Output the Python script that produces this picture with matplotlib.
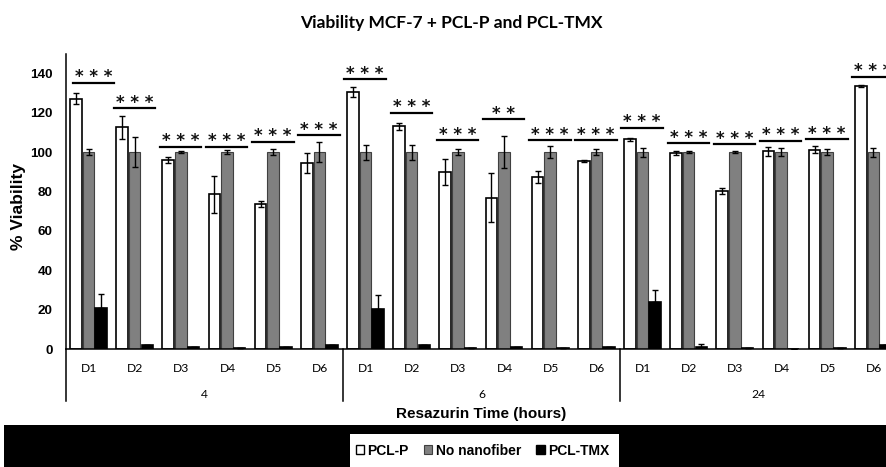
import matplotlib
matplotlib.use("Agg")
import matplotlib.pyplot as plt
from matplotlib.patches import Rectangle, Patch
import matplotlib.transforms as mtransforms
import numpy as np

# ---------------- data ----------------
groups = ["4", "6", "24"]
days = ["D1", "D2", "D3", "D4", "D5", "D6"]
series = ["PCL-P", "No nanofiber", "PCL-TMX"]

pclp = [127, 112.5, 96, 78.6, 73.7, 94.4,
        130.7, 113, 89.8, 76.9, 87.3, 95.7,
        106.5, 99.7, 80.3, 100.3, 101.3, 133.7]
pclp_err = [2.8, 6, 1.5, 9.5, 1.7, 5.2,
            2.5, 2, 6.6, 12.5, 3, 0.5,
            0.8, 1, 1.7, 2.3, 2, 0.5]
nonano = [100] * 18
nonano_err = [1.5, 7.5, 0.5, 0.8, 1.7, 5,
              3.8, 3.8, 1.5, 8.2, 3, 1.5,
              2.3, 0.5, 0.3, 2, 1.5, 2.3]
pcltmx = [20.8, 2, 1.2, 0.5, 0.8, 1.8,
          20.3, 2, 0.3, 0.8, 0.5, 1,
          23.7, 1, 0.3, 0, 0.3, 2]
pcltmx_err = [7, 0, 0, 0, 0, 0,
              7, 0, 0, 0, 0, 0,
              6.5, 1.3, 0, 0, 0, 0]

sig_height = [135.2, 122.2, 102.7, 102.7, 105.2, 108.6,
              137.1, 120, 106.1, 116.6, 106.1, 106.1,
              112.3, 104.4, 104, 105.7, 106.4, 138.2]
sig_label = ["***"] * 18
sig_label[9] = "**"

yticks = [0, 20, 40, 60, 80, 100, 120, 140]

# ---------------- figure ----------------
W, H = 887, 467
fig = plt.figure(figsize=(W / 100, H / 100), dpi=100)
fig.patch.set_facecolor("white")

ax_left, ax_right = 66, 897
ax_bot, ax_top = 349, 53.6
ax = fig.add_axes([ax_left / W, (H - ax_bot) / H,
                   (ax_right - ax_left) / W, (ax_bot - ax_top) / H])
ax_h_px = ax_bot - ax_top

n = len(pclp)
x = np.arange(n) + 0.5
bw = 0.25
err_kw = dict(ecolor="black", elinewidth=1.0, capsize=2.0, capthick=1.0)

ax.bar(x - 0.285, pclp, bw, yerr=pclp_err, color="white", edgecolor="black",
       linewidth=1.2, error_kw=err_kw, zorder=2)
ax.bar(x - 0.012, nonano, bw, yerr=nonano_err, color="#808080", edgecolor="#404040",
       linewidth=0.8, error_kw=err_kw, zorder=2)
ax.bar(x + 0.262, pcltmx, bw, yerr=[np.zeros(n), pcltmx_err], color="black",
       edgecolor="black", linewidth=1.2, error_kw=err_kw, zorder=2)

ax.set_xlim(0, n)
ax.set_ylim(0, 150)
ax.set_yticks(yticks)
ax.set_yticklabels([str(t) for t in yticks], fontfamily="Liberation Sans",
                   fontweight="bold", fontsize=9.7)
ax.tick_params(axis="y", length=0, pad=9.5)
ax.set_xticks([])
for s in ["top", "right"]:
    ax.spines[s].set_visible(False)
ax.spines["left"].set_linewidth(1.1)
ax.spines["bottom"].set_linewidth(1.1)

# significance bars
for i in range(n):
    x0 = i + 0.03
    x1 = i + 0.93
    if i == 0:
        x0 += 0.115
        x1 += 0.115
    y = sig_height[i]
    ax.plot([x0, x1], [y, y], color="black", lw=1.6, clip_on=False, zorder=3)
    lab = " ".join(sig_label[i])
    ax.annotate(lab, xy=((x0 + x1) / 2, y), xytext=(0, 0.3),
                textcoords="offset points", ha="center", va="baseline",
                fontsize=12, fontweight="bold", fontfamily="DejaVu Sans",
                color="#111111", annotation_clip=False)

# category axis
trans = mtransforms.blended_transform_factory(ax.transData, ax.transAxes)
for i in range(n):
    ax.text(x[i], -19 / ax_h_px, days[i % 6], transform=trans, ha="center",
            va="center", fontsize=8.7, fontfamily="Lato", color="black")
for g, name in enumerate(groups):
    ax.text(g * 6 + 3, -45 / ax_h_px, name, transform=trans, ha="center",
            va="center", fontsize=8.7, fontfamily="Lato", color="black")
for g in range(len(groups) + 1):
    ax.plot([g * 6, g * 6], [0, -52 / ax_h_px], transform=trans, color="black",
            lw=1.1, clip_on=False)

# axis titles and title
fig.text(481 / W, 1 - 414 / H, "Resazurin Time (hours)", ha="center", va="center",
         fontsize=11, fontweight="bold", fontfamily="Liberation Sans")
fig.text(19 / W, 1 - 206.5 / H, "% Viability", rotation=90, ha="center", va="center",
         fontsize=12.5, fontweight="bold", fontfamily="Liberation Sans")
fig.text(451 / W, 1 - 22.7 / H, "Viability MCF-7 + PCL-P and PCL-TMX", ha="center",
         va="center", fontsize=12.5, fontweight="bold", fontfamily="Lato")

# black band with legend box
fig.patches.append(Rectangle((4 / W, 0), (W - 4) / W, 42 / H, transform=fig.transFigure,
                             facecolor="black", edgecolor="none", zorder=0))
fig.patches.append(Rectangle((350 / W, 0), 269 / W, 33 / H, transform=fig.transFigure,
                             facecolor="white", edgecolor="none", zorder=1))
handles = [Patch(facecolor="white", edgecolor="black", linewidth=1.0),
           Patch(facecolor="#808080", edgecolor="#404040", linewidth=0.8),
           Patch(facecolor="black", edgecolor="black", linewidth=1.0)]
leg = fig.legend(handles, series, loc="center", bbox_to_anchor=(482.5 / W, 1 - 450.7 / H),
                 ncol=3, frameon=False, handlelength=0.6, handleheight=0.6,
                 handletextpad=0.25, columnspacing=1.1,
                 prop=dict(family="Liberation Sans", weight="bold", size=10))
leg.set_zorder(5)

fig.savefig("out.png", dpi=100)
